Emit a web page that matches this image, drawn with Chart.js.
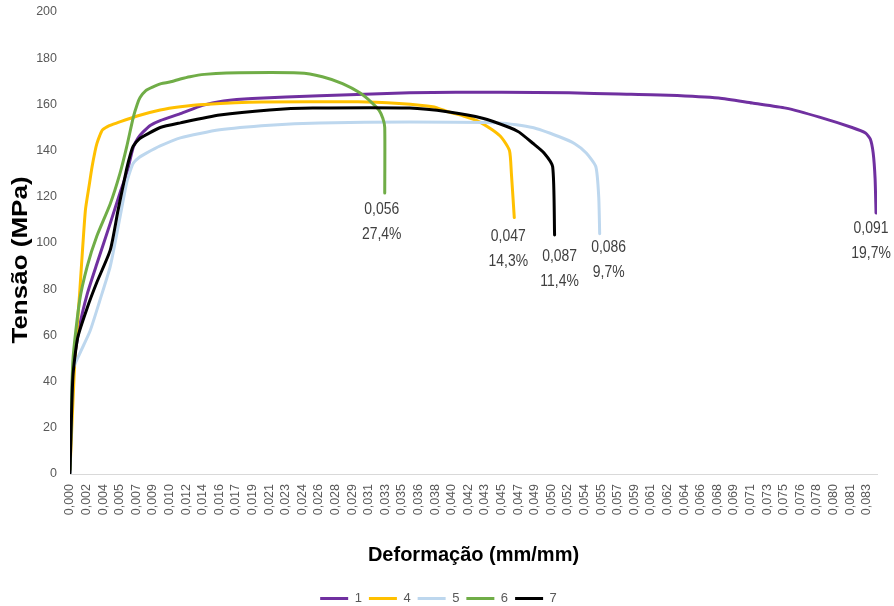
<!DOCTYPE html>
<html>
<head>
<meta charset="utf-8">
<script src="https://cdn.jsdelivr.net/npm/chart.js@4.4.1/dist/chart.umd.min.js"></script>
<style>
  html, body { margin: 0; padding: 0; background: #fff; }
</style>
</head>
<body>
<canvas id="chart" width="894" height="606"></canvas>
<script>
const FONT = '"Liberation Sans", Arial, sans-serif';

// x axis tick labels (deformação, mm/mm), one every xTickStep
const xTickLabels = ['0,000','0,002','0,004','0,005','0,007','0,009','0,010','0,012','0,014','0,016',
  '0,017','0,019','0,021','0,023','0,024','0,026','0,028','0,029','0,031','0,033',
  '0,035','0,036','0,038','0,040','0,042','0,043','0,045','0,047','0,049','0,050',
  '0,052','0,054','0,055','0,057','0,059','0,061','0,062','0,064','0,066','0,068',
  '0,069','0,071','0,073','0,075','0,076','0,078','0,080','0,081','0,083'];
const xTickStep = 0.00173;
const xMax = 0.0841;
const yMax = 200;

const seriesNames = ['1', '4', '5', '6', '7'];
const seriesColors = ['#7030A0', '#FFC000', '#BDD7EE', '#70AD47', '#000000'];

// corpo de prova 1
const strain1 = [0, 0.0003, 0.0010, 0.0018, 0.0028, 0.0042, 0.0052, 0.0059, 0.0066, 0.0071, 0.0076, 0.0084, 0.0094,
  0.0115, 0.0138, 0.0160, 0.0190, 0.0260, 0.0354, 0.0450, 0.0520, 0.0572, 0.0624, 0.0676, 0.0711, 0.0746,
  0.0781, 0.0815, 0.0829, 0.0834, 0.0837, 0.0839, 0.0840];
const stress1 = [6, 44, 64, 78, 91, 108.6, 121.6, 130, 141.5, 145.5, 148, 151, 153,
  156, 159.6, 161.5, 162.6, 163.7, 165, 165.3, 165, 164.5, 164, 162.8, 160.6, 158.4,
  154.5, 150, 147.6, 145, 139, 128, 113];

// corpo de prova 4
const strain4 = [0, 0.0005, 0.0010, 0.0016, 0.0020, 0.0023, 0.0026, 0.0028, 0.0031, 0.0034, 0.0041, 0.0049, 0.0070,
  0.0094, 0.0115, 0.0140, 0.0200, 0.0300, 0.0343, 0.0378, 0.0395, 0.0410, 0.0424, 0.0440, 0.0450, 0.0458,
  0.0460, 0.0463];
const stress4 = [1.7, 49, 78, 114, 125, 133, 139.5, 143, 146.5, 149, 150.8, 152, 155,
  157.6, 159, 160, 161, 161.2, 160.4, 159, 156.7, 155, 153, 149, 145.5, 140,
  130, 111];

// corpo de prova 5
const strain5 = [0, 0.0003, 0.0010, 0.0021, 0.0031, 0.0042, 0.0052, 0.0059, 0.0063, 0.0066, 0.0072, 0.0080, 0.0094,
  0.0115, 0.0156, 0.0208, 0.0260, 0.0354, 0.0448, 0.0482, 0.0510, 0.0526, 0.0538, 0.0548, 0.0551, 0.0552];
const stress5 = [0, 45, 52, 62, 75, 90, 111, 126, 131.5, 134.6, 137, 139, 142,
  145.5, 149, 151, 152, 152.4, 152, 150, 146, 143, 139, 133, 120, 104];

// corpo de prova 6
const strain6 = [0, 0.0003, 0.0010, 0.0018, 0.0028, 0.0042, 0.0052, 0.0059, 0.0066, 0.0070, 0.0073, 0.0079, 0.0086,
  0.0095, 0.0104, 0.0115, 0.0125, 0.0140, 0.0163, 0.0239, 0.0263, 0.0284, 0.0302, 0.0315, 0.0322, 0.0326,
  0.0328, 0.0328];
const stress6 = [2, 49, 75, 90, 103, 117, 130, 141.5, 154.5, 160, 163, 166, 167.5,
  169, 169.7, 171, 172, 173, 173.6, 173.6, 172, 169, 165, 160.6, 157.5, 154,
  150, 121.6];

// corpo de prova 7
const strain7 = [0, 0.0003, 0.0008, 0.0018, 0.0028, 0.0042, 0.0050, 0.0059, 0.0063, 0.0066, 0.0072, 0.0080, 0.0094,
  0.0115, 0.0156, 0.0208, 0.0253, 0.0354, 0.0395, 0.0430, 0.0458, 0.0468, 0.0482, 0.0494, 0.0503, 0.0505];
const stress7 = [0.5, 42, 59, 72, 83, 97, 114, 132, 138.5, 142, 145, 147, 150,
  152, 155.4, 157.6, 158.4, 158.4, 156.7, 154, 150, 148, 143.3, 139, 133, 103.5];

// rótulos no ponto de ruptura
const breakStrain = ['0,091', '0,047', '0,086', '0,056', '0,087'];
const elongation = ['19,7%', '14,3%', '9,7%', '27,4%', '11,4%'];

const strains = [strain1, strain4, strain5, strain6, strain7];
const stresses = [stress1, stress4, stress5, stress6, stress7];
// label nudges (px) so the texts sit like in the original
const labelShift = [[-5, 15], [-6, 19], [9, 14], [-3, 16], [5, 21]];

const datasets = seriesNames.map((name, i) => ({
  label: name,
  data: strains[i].map((x, k) => ({ x: x, y: stresses[i][k] })),
  borderColor: seriesColors[i],
  backgroundColor: seriesColors[i],
  borderWidth: 3,
  borderCapStyle: 'round',
  borderJoinStyle: 'round',
  pointRadius: 0,
  tension: 0.2,
  order: seriesNames.length - i,
  labelShift: labelShift[i]
}));

// narrow-looking text (the original picture is squeezed sideways)
function narrowText(ctx, text, x, y, squeeze) {
  ctx.save();
  ctx.translate(x, y);
  ctx.scale(squeeze, 1);
  ctx.fillText(text, 0, 0);
  ctx.restore();
}

// end-of-curve labels and the y axis title
const extraText = {
  id: 'extraText',
  afterDatasetsDraw(chart) {
    const ctx = chart.ctx;
    ctx.save();
    ctx.font = '17px ' + FONT;
    ctx.fillStyle = '#404040';
    ctx.textAlign = 'center';
    ctx.textBaseline = 'middle';
    chart.data.datasets.forEach((ds, i) => {
      const pts = chart.getDatasetMeta(i).data;
      const p = pts[pts.length - 1];
      const s = ds.labelShift;
      narrowText(ctx, breakStrain[i], p.x + s[0], p.y + s[1], 0.82);
      narrowText(ctx, elongation[i], p.x + s[0], p.y + s[1] + 25, 0.82);
    });
    // y title
    ctx.font = 'bold 26px ' + FONT;
    ctx.fillStyle = '#000';
    ctx.translate(21, chart.chartArea.top + 248);
    ctx.rotate(-Math.PI / 2);
    ctx.scale(1, 0.82);
    ctx.fillText('Tensão (MPa)', 0, 0);
    ctx.restore();
  }
};

const chart = new Chart(document.getElementById('chart').getContext('2d'), {
  type: 'line',
  data: { datasets: datasets },
  plugins: [extraText],
  options: {
    responsive: false,
    animation: false,
    layout: { padding: { top: 12, right: 17, left: 0, bottom: -9 } },
    scales: {
      x: {
        type: 'linear',
        min: 0,
        max: xMax,
        grid: { display: false, drawTicks: false },
        border: { display: true, color: '#d9d9d9', width: 1 },
        afterBuildTicks: (scale) => {
          scale.ticks = xTickLabels.map((t, i) => ({ value: i * xTickStep }));
        },
        afterFit: (scale) => { scale.height = 111; },
        ticks: {
          autoSkip: false,
          minRotation: 90,
          maxRotation: 90,
          padding: 10,
          color: '#595959',
          font: { family: FONT, size: 12.5 },
          callback: (v, i) => xTickLabels[i]
        },
        title: {
          display: true,
          text: 'Deformação (mm/mm)',
          color: '#000',
          font: { family: FONT, size: 20, weight: 'bold' },
          padding: { top: 4, bottom: 18 }
        }
      },
      y: {
        min: 0,
        max: yMax,
        grid: { display: false, drawTicks: true, tickLength: 10 },
        border: { display: false },
        afterFit: (scale) => { scale.width = 70; },
        ticks: {
          stepSize: 20,
          padding: 3,
          color: '#595959',
          font: { family: FONT, size: 12.5 }
        }
      }
    },
    plugins: {
      tooltip: { enabled: false },
      legend: {
        position: 'bottom',
        labels: {
          usePointStyle: true,
          pointStyle: 'line',
          pointStyleWidth: 28,
          padding: 7,
          color: '#595959',
          font: { family: FONT, size: 13 },
          sort: (a, b) => a.datasetIndex - b.datasetIndex
        }
      }
    }
  }
});
</script>
</body>
</html>
